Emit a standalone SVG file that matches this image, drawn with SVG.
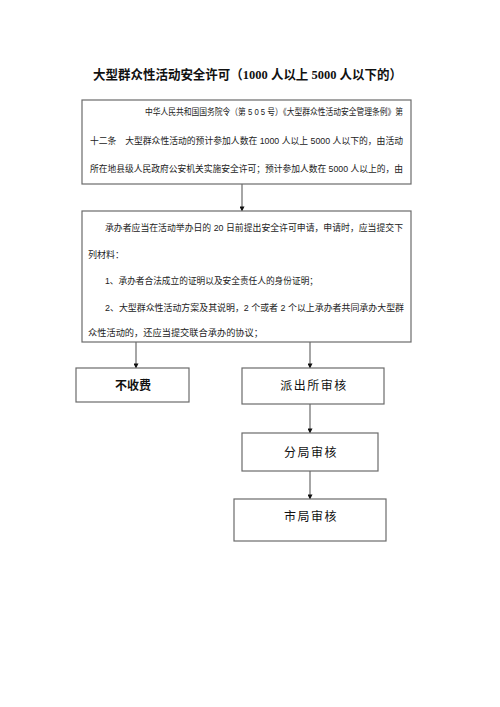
<svg xmlns="http://www.w3.org/2000/svg" width="500" height="707" viewBox="0 0 500 707">
<style>
.box{fill:#fff;stroke:#6b6b6b;stroke-width:1.2}
.t{font-family:"Liberation Sans","Noto Sans CJK SC",sans-serif;font-size:9px;fill:#222}
.lbl{font-family:"Noto Sans CJK SC",sans-serif;font-size:12px;fill:#111;text-anchor:middle;letter-spacing:1.5px}
.title{font-family:"Liberation Serif","Noto Sans CJK SC",serif;font-size:13px;font-weight:bold;fill:#111}
.con{stroke:#6b6b6b;stroke-width:1.2;fill:none;marker-end:url(#ah)}
</style>
<defs>
<marker id="ah" viewBox="0 0 6 6" refX="5.5" refY="3" markerWidth="5" markerHeight="5" markerUnits="userSpaceOnUse" orient="auto">
<path d="M0,0 L6,3 L0,6 z" fill="#111"/>
</marker>
</defs>
<rect width="500" height="707" fill="#fff"/>
<text class="title" x="93" y="79" textLength="309" lengthAdjust="spacingAndGlyphs">大型群众性活动安全许可（1000 人以上 5000 人以下的）</text>

<g id="connectors">
<line class="con" x1="242" y1="184" x2="242" y2="211"/>
<line class="con" x1="136" y1="342" x2="136" y2="368"/>
<line class="con" x1="310" y1="342" x2="310" y2="368"/>
<line class="con" x1="310" y1="404" x2="310" y2="433"/>
<line class="con" x1="310" y1="471" x2="310" y2="499"/>
</g>

<g id="n1">
<rect class="box" x="82" y="100" width="329" height="84"/>
<text class="t" x="145" y="115" textLength="258" lengthAdjust="spacingAndGlyphs">中华人民共和国国务院令（第 5 0 5 号）《大型群众性活动安全管理条例》第</text>
<text class="t" x="90" y="144" textLength="313" lengthAdjust="spacingAndGlyphs">十二条　大型群众性活动的预计参加人数在 1000 人以上 5000 人以下的，由活动</text>
<text class="t" x="90" y="172" textLength="313" lengthAdjust="spacingAndGlyphs">所在地县级人民政府公安机关实施安全许可；预计参加人数在 5000 人以上的，由</text>
</g>

<g id="n2">
<rect class="box" x="82" y="211" width="329" height="131"/>
<text class="t" x="105" y="231" textLength="298" lengthAdjust="spacingAndGlyphs">承办者应当在活动举办日的 20 日前提出安全许可申请，申请时，应当提交下</text>
<text class="t" x="88" y="258">列材料：</text>
<text class="t" x="105" y="284" textLength="213" lengthAdjust="spacingAndGlyphs">1、承办者合法成立的证明以及安全责任人的身份证明；</text>
<text class="t" x="105" y="311" textLength="299" lengthAdjust="spacingAndGlyphs">2、大型群众性活动方案及其说明，2 个或者 2 个以上承办者共同承办大型群</text>
<text class="t" x="88" y="336" textLength="175" lengthAdjust="spacingAndGlyphs">众性活动的，还应当提交联合承办的协议；</text>
</g>

<g id="n3">
<rect class="box" x="76" y="368" width="113" height="34"/>
<text class="lbl" x="133" y="389.5" style="font-weight:bold;letter-spacing:0">不收费</text>
</g>

<g id="n4">
<rect class="box" x="242" y="368" width="142" height="36"/>
<text class="lbl" x="314" y="390">派出所审核</text>
</g>

<g id="n5">
<rect class="box" x="242" y="433" width="136" height="38"/>
<text class="lbl" x="311" y="456.5">分局审核</text>
</g>

<g id="n6">
<rect class="box" x="234" y="499" width="152" height="42"/>
<text class="lbl" x="311" y="520.5">市局审核</text>
</g>
</svg>
